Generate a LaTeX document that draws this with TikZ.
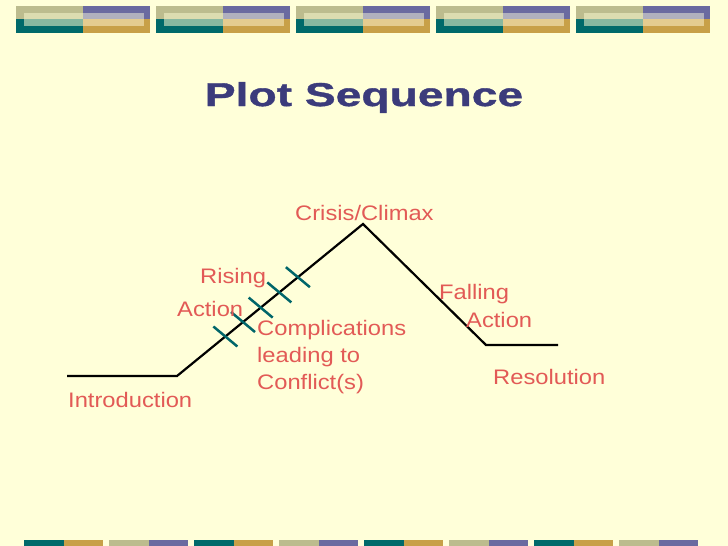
\documentclass[tikz,border=0pt]{standalone}
\usepackage{fontspec}
\setmainfont{Liberation Sans}[FakeStretch=1.13]
\newfontfamily\titlefont{Liberation Sans}[FakeStretch=1.4, FakeBold=1.2]
\usepackage{xcolor}
\usetikzlibrary{calc}
\definecolor{paper}{HTML}{FFFFD9}
\definecolor{plotred}{HTML}{E25A56}
\definecolor{titleblue}{HTML}{3B3B7B}
\definecolor{tickteal}{HTML}{00666A}
\definecolor{bannerolive}{HTML}{BCBC8E}
\definecolor{bannerpurple}{HTML}{6A6AA0}
\definecolor{bannerteal}{HTML}{006A6A}
\definecolor{bannergold}{HTML}{C8A048}
\definecolor{lightolive}{HTML}{DCDCB0}
\definecolor{lightpurple}{HTML}{B0B0BE}
\definecolor{lightteal}{HTML}{88B8A0}
\definecolor{lightgold}{HTML}{E4CC90}

\begin{document}
\begin{tikzpicture}[x=1pt, y=-1pt,
    plotlabel/.style={text=plotred, inner sep=0pt, anchor=base west,
                      font=\fontsize{21}{27}\selectfont},
    tickmark/.style={tickteal, line width=2.5pt}]
        \fill[paper] (0,0) rectangle (728,546);
        \useasboundingbox (0,0) rectangle (728,546);

        % Banner across the top
        \foreach \bx in {16,156,296,436,576} {
            \fill[bannerolive] (\bx,6) rectangle (\bx+67,19.3);
            \fill[bannerpurple] (\bx+67,6) rectangle (\bx+134,19.3);
            \fill[bannerteal] (\bx,19.3) rectangle (\bx+67,32.7);
            \fill[bannergold] (\bx+67,19.3) rectangle (\bx+134,32.7);
            \fill[lightolive] (\bx+8,12.7) rectangle (\bx+67,19.3);
            \fill[lightpurple] (\bx+67,12.7) rectangle (\bx+128,19.3);
            \fill[lightteal] (\bx+8,19.3) rectangle (\bx+67,26);
            \fill[lightgold] (\bx+67,19.3) rectangle (\bx+128,26);
        }

        % Strip along the bottom
        \foreach \sx in {24,194,364,534} {
            \fill[bannerteal] (\sx,540) rectangle (\sx+39.5,546);
            \fill[bannergold] (\sx+39.5,540) rectangle (\sx+79,546);
        }
        \foreach \sx in {109,279,449,619} {
            \fill[bannerolive] (\sx,540) rectangle (\sx+39.5,546);
            \fill[bannerpurple] (\sx+39.5,540) rectangle (\sx+79,546);
        }

        \node[text=titleblue, inner sep=0pt, anchor=base,
              font=\titlefont\bfseries\fontsize{33}{40}\selectfont] (title) at (364,106) {Plot Sequence};

        % The plot line
        \coordinate (start) at (67,376);
        \coordinate (knee) at (177,376);
        \coordinate (peak) at (363,224);
        \coordinate (low) at (486,345);
        \coordinate (finish) at (558,345);
        \draw[line width=2.2pt, line join=miter] (start) -- (knee) -- (peak) -- (low) -- (finish);

        % Complications along the rise
        \foreach \t in {0.26,0.355,0.45,0.55,0.65} {
            \coordinate (cmp) at ($(knee)!\t!(peak)$);
            \draw[tickmark] ([shift={(-12,-10)}]cmp) -- ([shift={(12,10)}]cmp);
        }

        \node[plotlabel] (climax) at (295,220) {Crisis/Climax};
        \node[plotlabel] (rising) at (200,283) {Rising};
        \node[plotlabel] (action) at (177,316) {Action};
        \node[plotlabel, align=left] (complic) at (257,389) {Complications\\leading to\\Conflict(s)};
        \node[plotlabel] (intro) at (68,407) {Introduction};
        \node[plotlabel] (falling) at (439,299) {Falling};
        \node[plotlabel] (faction) at (466,327) {Action};
        \node[plotlabel] (resol) at (493,384) {Resolution};

    \end{tikzpicture}
\end{document}
